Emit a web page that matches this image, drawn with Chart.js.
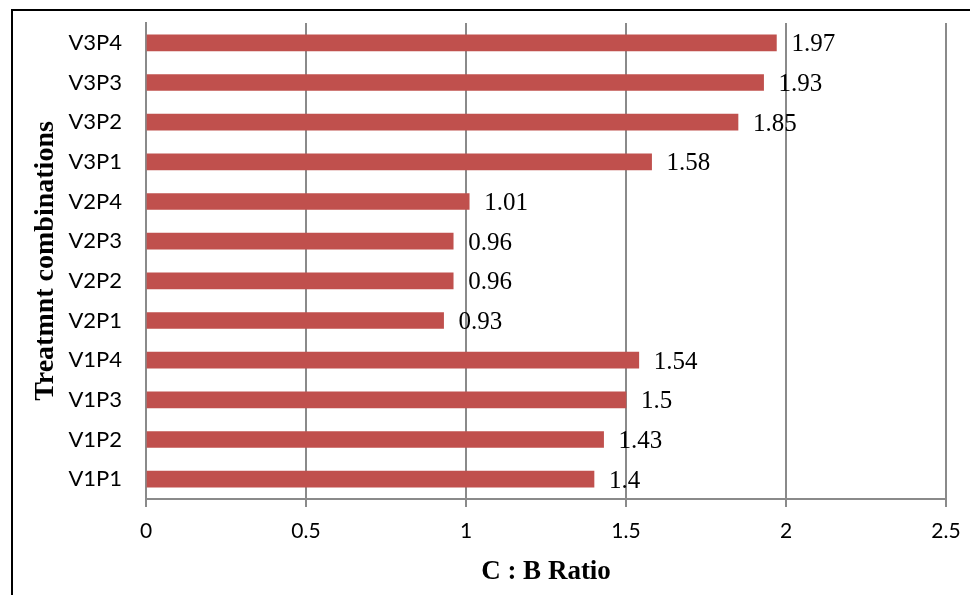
<!DOCTYPE html>
<html>
<head>
<meta charset="utf-8">
<script src="https://cdn.jsdelivr.net/npm/chart.js@4/dist/chart.umd.min.js"></script>
<style>
  body { margin: 0; background: #fff; }
  canvas { display: block; }
</style>
</head>
<body>
<canvas id="myChart" width="970" height="595"></canvas>
<script>
  // datos (de abajo hacia arriba)
  const tratamientos = ['V1P1', 'V1P2', 'V1P3', 'V1P4', 'V2P1', 'V2P2', 'V2P3', 'V2P4', 'V3P1', 'V3P2', 'V3P3', 'V3P4'];
  const ratioCB = [1.4, 1.43, 1.5, 1.54, 0.93, 0.96, 0.96, 1.01, 1.58, 1.85, 1.93, 1.97];
  const ticksX = [0, 0.5, 1, 1.5, 2, 2.5];

  const colorBarra = '#C0504D';
  const colorGrid = '#8a8a8a';

  // etiquetas de valor al final de cada barra
  const etiquetasPlugin = {
    id: 'etiquetas',
    afterDatasetsDraw(chart) {
      const ctx = chart.ctx;
      const meta = chart.getDatasetMeta(0);
      ctx.save();
      ctx.font = '25px "Liberation Serif", "Times New Roman", serif';
      ctx.fillStyle = '#000';
      ctx.textAlign = 'left';
      ctx.textBaseline = 'middle';
      meta.data.forEach((bar, i) => {
        ctx.fillText(String(ratioCB[i]), bar.x + 15, bar.y + 2);
      });
      ctx.restore();
    }
  };

  // marco del grafico (izquierda y arriba)
  const marcoPlugin = {
    id: 'marco',
    afterDraw(chart) {
      const ctx = chart.ctx;
      ctx.save();
      ctx.strokeStyle = '#000';
      ctx.lineWidth = 2;
      ctx.beginPath();
      ctx.moveTo(12, 595);
      ctx.lineTo(12, 10);
      ctx.lineTo(970, 10);
      ctx.stroke();
      ctx.restore();
    }
  };

  const ctx = document.getElementById('myChart');
  new Chart(ctx, {
    type: 'bar',
    data: {
      labels: tratamientos,
      datasets: [{
        label: 'C : B Ratio',
        data: ratioCB,
        backgroundColor: colorBarra,
        borderWidth: 0,
        barThickness: 16
      }]
    },
    options: {
      indexAxis: 'y',
      responsive: false,
      animation: false,
      layout: { padding: { top: 23, right: 24, left: 0, bottom: 0 } },
      plugins: {
        legend: { display: false },
        tooltip: { enabled: false }
      },
      scales: {
        x: {
          min: 0,
          max: 2.5,
          afterBuildTicks(scale) {
            scale.ticks = ticksX.map(v => ({ value: v }));
          },
          afterFit(scale) {
            scale.height = 96;
            scale.paddingLeft = 0;
            scale.paddingRight = 0;
          },
          grid: {
            color: colorGrid,
            lineWidth: 2,
            drawTicks: true,
            tickLength: 8,
            tickColor: colorGrid
          },
          border: { display: true, color: colorGrid, width: 2 },
          ticks: {
            color: '#000',
            padding: 12,
            maxRotation: 0,
            font: { family: 'Lato, "Open Sans", sans-serif', size: 21 },
            callback: v => String(v)
          },
          title: {
            display: true,
            text: 'C : B Ratio',
            color: '#000',
            font: { family: '"Liberation Serif", "Times New Roman", serif', size: 27, weight: 'bold' },
            padding: { top: 0, bottom: 7 }
          }
        },
        y: {
          reverse: true,
          afterFit(scale) {
            scale.width = 146;
            scale.paddingTop = 0;
            scale.paddingBottom = 0;
          },
          grid: { display: false, drawTicks: false },
          border: { display: true, color: colorGrid, width: 2 },
          ticks: {
            color: '#000',
            padding: 24,
            font: { family: 'Lato, "Open Sans", sans-serif', size: 22 }
          },
          title: {
            display: true,
            text: 'Treatmnt combinations',
            color: '#000',
            font: { family: '"Liberation Serif", "Times New Roman", serif', size: 28, weight: 'bold' },
            padding: { top: 29, bottom: 0 }
          }
        }
      }
    },
    plugins: [etiquetasPlugin, marcoPlugin]
  });
</script>
</body>
</html>
